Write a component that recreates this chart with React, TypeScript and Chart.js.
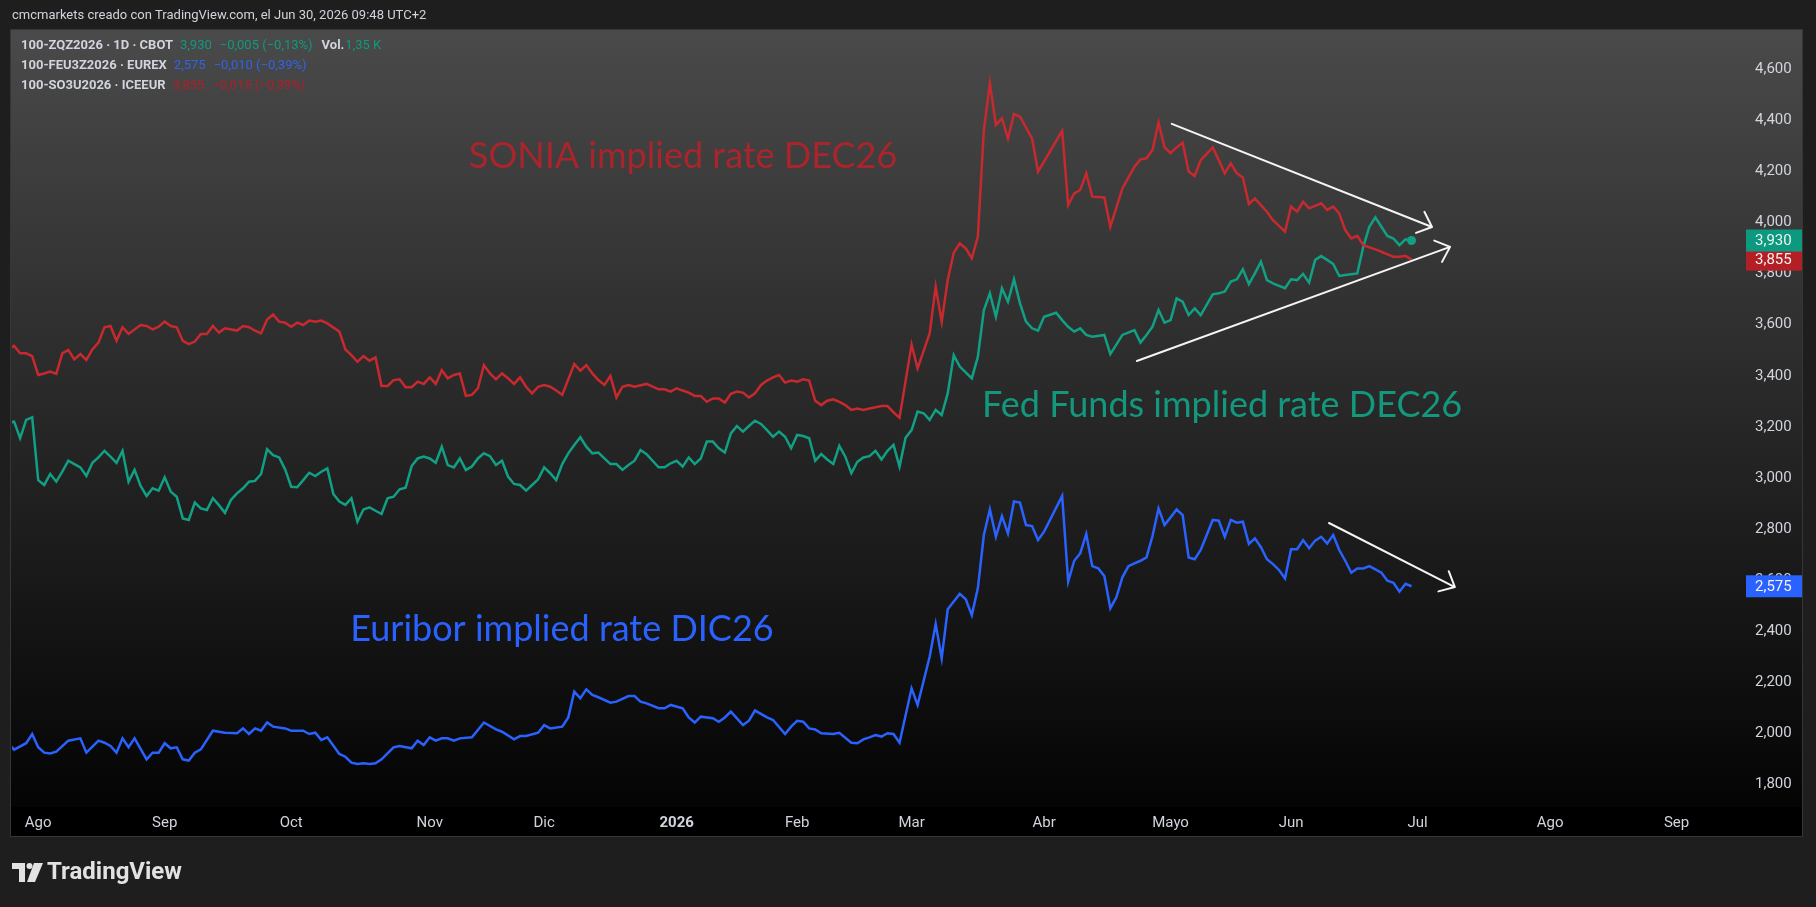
import { useEffect, useRef } from "react";
import { Chart, registerables } from "chart.js";

Chart.register(...registerables);

type Pt = [number, number];

// Session index (trading days counted from 1 Aug 2025) of each month's first session
const monthStarts = [0, 21, 42, 65, 84, 106, 126, 145, 167, 188, 208, 229, 251, 272];
const monthLabels = ["Ago", "Sep", "Oct", "Nov", "Dic", "2026", "Feb", "Mar", "Abr", "Mayo", "Jun", "Jul", "Ago", "Sep"];

// Price-scale ticks (implied rate, %)
const rateTicks = [1.8, 2.0, 2.2, 2.4, 2.6, 2.8, 3.0, 3.2, 3.4, 3.6, 3.8, 4.0, 4.2, 4.4, 4.6];

// [session index, implied rate %] = 100 - futures price
const soniaDec26: Pt[] = [
  [-5, 3.505], [-4, 3.517], [-3, 3.488], [-2, 3.488], [-1, 3.477], [0, 3.403], [1, 3.409], [2, 3.416], [3, 3.407],
  [4, 3.488], [5, 3.501], [6, 3.464], [7, 3.485], [8, 3.462], [9, 3.503], [10, 3.53], [11, 3.59], [12, 3.595],
  [13, 3.537], [14, 3.59], [15, 3.564], [17, 3.599], [18, 3.595], [19, 3.582], [20, 3.592], [21, 3.612], [22, 3.595],
  [23, 3.59], [24, 3.537], [25, 3.524], [26, 3.534], [27, 3.564], [28, 3.564], [29, 3.595], [30, 3.569], [31, 3.586],
  [33, 3.577], [34, 3.595], [35, 3.59], [36, 3.577], [37, 3.566], [38, 3.62], [39, 3.64], [40, 3.612], [41, 3.608],
  [42, 3.592], [43, 3.608], [44, 3.599], [45, 3.616], [46, 3.612], [47, 3.616], [48, 3.605], [50, 3.573], [51, 3.503],
  [52, 3.481], [53, 3.455], [54, 3.477], [55, 3.459], [56, 3.472], [57, 3.36], [58, 3.36], [59, 3.383], [60, 3.386],
  [61, 3.355], [62, 3.355], [63, 3.377], [64, 3.368], [65, 3.394], [66, 3.368], [67, 3.422], [68, 3.39], [69, 3.403],
  [70, 3.409], [71, 3.321], [72, 3.325], [73, 3.351], [74, 3.442], [75, 3.409], [76, 3.386], [77, 3.409], [78, 3.39],
  [79, 3.368], [80, 3.394], [81, 3.357], [82, 3.331], [83, 3.357], [84, 3.364], [85, 3.357], [86, 3.342], [87, 3.325],
  [89, 3.446], [90, 3.42], [91, 3.442], [92, 3.409], [93, 3.383], [94, 3.364], [95, 3.399], [96, 3.315], [97, 3.357],
  [98, 3.364], [99, 3.357], [101, 3.368], [103, 3.347], [104, 3.347], [105, 3.338], [106, 3.351], [107, 3.342],
  [108, 3.334], [109, 3.321], [110, 3.321], [111, 3.298], [112, 3.311], [113, 3.311], [114, 3.295], [115, 3.329],
  [116, 3.338], [117, 3.334], [118, 3.315], [119, 3.331], [120, 3.364], [121, 3.381], [122, 3.394], [123, 3.403],
  [124, 3.373], [125, 3.381], [126, 3.377], [127, 3.386], [128, 3.381], [129, 3.302], [130, 3.285], [131, 3.302],
  [132, 3.308], [133, 3.298], [134, 3.285], [135, 3.266], [136, 3.272], [137, 3.266], [138, 3.272], [140, 3.281],
  [141, 3.281], [142, 3.257], [143, 3.235], [145, 3.522], [146, 3.429], [148, 3.566], [149, 3.749], [150, 3.612],
  [151, 3.775], [152, 3.882], [153, 3.919], [154, 3.899], [155, 3.86], [156, 3.945], [157, 4.363], [158, 4.546],
  [159, 4.383], [160, 4.409], [161, 4.33], [162, 4.426], [163, 4.415], [165, 4.33], [166, 4.2], [170, 4.36],
  [171, 4.069], [172, 4.115], [173, 4.128], [174, 4.193], [175, 4.102], [177, 4.099], [178, 3.984], [180, 4.134],
  [182, 4.219], [183, 4.248], [184, 4.252], [185, 4.285], [186, 4.392], [187, 4.295], [188, 4.272], [189, 4.295],
  [190, 4.313], [191, 4.2], [192, 4.183], [193, 4.245], [195, 4.295], [196, 4.245], [197, 4.193], [198, 4.232],
  [199, 4.193], [200, 4.177], [201, 4.073], [202, 4.095], [203, 4.069], [204, 4.043], [205, 4.01], [207, 3.965],
  [208, 4.063], [209, 4.043], [210, 4.082], [211, 4.056], [213, 4.076], [214, 4.05], [215, 4.063], [216, 4.036],
  [217, 3.971], [218, 3.938], [219, 3.948], [220, 3.912], [222, 3.895], [223, 3.886], [225, 3.866], [226, 3.866],
  [227, 3.87], [228, 3.855],
];

const fedFundsDec26: Pt[] = [
  [-5, 3.215], [-4, 3.22], [-3, 3.155], [-2, 3.227], [-1, 3.237], [0, 2.991], [1, 2.972], [2, 3.015], [3, 2.985],
  [4, 3.024], [5, 3.067], [6, 3.054], [7, 3.041], [8, 3.007], [9, 3.059], [10, 3.08], [11, 3.106], [12, 3.083],
  [13, 3.059], [14, 3.106], [15, 2.985], [16, 3.031], [17, 2.968], [18, 2.929], [19, 2.959], [20, 2.95], [21, 3.002],
  [22, 2.946], [23, 2.926], [24, 2.841], [25, 2.835], [26, 2.903], [27, 2.88], [28, 2.874], [29, 2.92], [30, 2.893],
  [31, 2.863], [32, 2.913], [33, 2.939], [34, 2.959], [35, 2.985], [36, 2.988], [37, 3.015], [38, 3.112], [39, 3.089],
  [40, 3.08], [41, 3.033], [42, 2.965], [43, 2.963], [44, 2.991], [45, 3.02], [46, 3.007], [47, 3.024], [48, 3.037],
  [49, 2.937], [50, 2.907], [51, 2.894], [52, 2.92], [53, 2.828], [54, 2.876], [55, 2.884], [56, 2.871], [57, 2.858],
  [58, 2.92], [59, 2.926], [60, 2.955], [61, 2.961], [62, 3.046], [63, 3.076], [64, 3.083], [65, 3.076], [66, 3.059],
  [67, 3.122], [68, 3.05], [69, 3.041], [70, 3.076], [71, 3.031], [72, 3.044], [73, 3.076], [74, 3.096], [75, 3.085],
  [76, 3.05], [77, 3.067], [78, 3.005], [79, 2.976], [80, 2.972], [81, 2.95], [82, 2.972], [83, 2.994], [84, 3.041],
  [85, 3.018], [86, 2.991], [87, 3.054], [88, 3.096], [89, 3.129], [90, 3.159], [91, 3.122], [92, 3.096], [93, 3.099],
  [94, 3.076], [95, 3.054], [96, 3.054], [97, 3.031], [98, 3.05], [99, 3.067], [100, 3.109], [101, 3.093], [102, 3.067],
  [103, 3.041], [104, 3.041], [105, 3.057], [106, 3.067], [107, 3.044], [108, 3.08], [109, 3.054], [110, 3.076],
  [111, 3.142], [112, 3.142], [113, 3.116], [114, 3.099], [115, 3.174], [116, 3.203], [117, 3.181], [118, 3.203],
  [119, 3.224], [120, 3.211], [121, 3.187], [122, 3.161], [123, 3.181], [124, 3.161], [125, 3.116], [126, 3.168],
  [127, 3.164], [128, 3.155], [129, 3.067], [130, 3.093], [131, 3.072], [132, 3.054], [133, 3.125], [134, 3.083],
  [135, 3.018], [136, 3.063], [137, 3.08], [138, 3.085], [139, 3.106], [140, 3.072], [141, 3.106], [142, 3.129],
  [143, 3.044], [144, 3.157], [145, 3.187], [146, 3.26], [147, 3.253], [148, 3.227], [149, 3.266], [150, 3.246],
  [151, 3.331], [152, 3.481], [153, 3.436], [155, 3.39], [156, 3.474], [157, 3.657], [158, 3.723], [159, 3.631],
  [160, 3.743], [161, 3.69], [162, 3.778], [163, 3.684], [164, 3.612], [165, 3.586], [166, 3.577], [167, 3.631],
  [169, 3.647], [170, 3.618], [171, 3.592], [172, 3.573], [173, 3.586], [174, 3.56], [175, 3.553], [177, 3.56],
  [178, 3.485], [180, 3.56], [182, 3.579], [183, 3.53], [184, 3.56], [185, 3.592], [186, 3.658], [187, 3.608],
  [188, 3.618], [189, 3.703], [190, 3.69], [191, 3.638], [192, 3.664], [193, 3.638], [195, 3.719], [196, 3.723],
  [197, 3.73], [198, 3.769], [199, 3.778], [200, 3.817], [201, 3.759], [202, 3.801], [203, 3.847], [204, 3.775],
  [205, 3.762], [207, 3.743], [208, 3.778], [209, 3.775], [210, 3.799], [211, 3.765], [212, 3.854], [213, 3.869],
  [214, 3.854], [215, 3.838], [216, 3.791], [217, 3.795], [219, 3.801], [220, 3.906], [221, 3.984], [222, 4.021],
  [223, 3.984], [224, 3.948], [225, 3.938], [226, 3.912], [227, 3.935], [228, 3.93],
];

const euriborDec26: Pt[] = [
  [-5, 1.96], [-4, 1.935], [-2, 1.96], [-1, 1.996], [0, 1.944], [1, 1.923], [2, 1.92], [3, 1.927], [5, 1.97],
  [7, 1.979], [8, 1.923], [10, 1.97], [11, 1.962], [12, 1.949], [13, 1.923], [14, 1.979], [15, 1.944], [16, 1.979],
  [18, 1.897], [19, 1.923], [20, 1.923], [21, 1.96], [22, 1.94], [23, 1.944], [24, 1.897], [25, 1.892], [26, 1.923],
  [27, 1.936], [29, 2.009], [31, 2.001], [33, 1.999], [34, 2.018], [35, 1.996], [36, 2.018], [37, 2.009], [38, 2.041],
  [39, 2.025], [41, 2.018], [42, 2.009], [44, 2.009], [45, 1.996], [46, 2.001], [47, 1.973], [48, 1.983], [50, 1.918],
  [51, 1.907], [52, 1.884], [53, 1.879], [54, 1.881], [55, 1.879], [56, 1.881], [57, 1.897], [59, 1.944], [60, 1.949],
  [62, 1.94], [63, 1.97], [64, 1.953], [65, 1.983], [66, 1.97], [67, 1.979], [68, 1.979], [69, 1.97], [70, 1.979],
  [72, 1.983], [73, 2.012], [74, 2.041], [76, 2.014], [77, 2.005], [79, 1.975], [80, 1.988], [81, 1.988], [83, 2.001],
  [84, 2.031], [85, 2.018], [87, 2.025], [88, 2.061], [89, 2.162], [90, 2.136], [91, 2.171], [92, 2.149], [93, 2.14],
  [95, 2.119], [96, 2.123], [98, 2.145], [99, 2.145], [100, 2.123], [101, 2.116], [103, 2.097], [104, 2.097],
  [105, 2.11], [107, 2.097], [108, 2.061], [109, 2.041], [110, 2.064], [112, 2.058], [113, 2.044], [114, 2.061],
  [115, 2.084], [117, 2.031], [118, 2.048], [119, 2.088], [121, 2.061], [122, 2.051], [124, 1.996], [125, 2.025],
  [126, 2.048], [127, 2.044], [128, 2.018], [129, 2.014], [130, 1.999], [132, 1.996], [133, 2.001], [135, 1.962],
  [136, 1.96], [137, 1.975], [138, 1.983], [139, 1.992], [140, 1.986], [141, 1.999], [142, 1.996], [143, 1.962],
  [145, 2.175], [146, 2.11], [148, 2.299], [149, 2.427], [150, 2.293], [151, 2.485], [152, 2.515], [153, 2.545],
  [154, 2.524], [155, 2.462], [156, 2.567], [157, 2.776], [158, 2.876], [159, 2.769], [160, 2.85], [161, 2.782],
  [162, 2.907], [163, 2.903], [164, 2.815], [165, 2.811], [166, 2.756], [167, 2.789], [170, 2.929], [171, 2.593],
  [172, 2.675], [173, 2.704], [174, 2.78], [175, 2.654], [176, 2.645], [177, 2.615], [178, 2.489], [179, 2.532],
  [180, 2.61], [181, 2.654], [182, 2.665], [183, 2.675], [184, 2.688], [185, 2.772], [186, 2.88], [187, 2.815],
  [188, 2.845], [189, 2.876], [190, 2.854], [191, 2.688], [192, 2.681], [193, 2.717], [194, 2.776], [195, 2.835],
  [196, 2.832], [197, 2.769], [198, 2.835], [199, 2.824], [200, 2.828], [201, 2.741], [202, 2.763], [203, 2.728],
  [204, 2.681], [205, 2.662], [206, 2.639], [207, 2.606], [208, 2.72], [209, 2.72], [210, 2.756], [211, 2.724],
  [212, 2.754], [213, 2.769], [214, 2.743], [215, 2.776], [216, 2.717], [217, 2.675], [218, 2.628], [219, 2.645],
  [220, 2.645], [221, 2.654], [222, 2.641], [223, 2.628], [224, 2.597], [225, 2.589], [226, 2.554], [227, 2.585],
  [228, 2.575],
];

const headerText = "cmcmarkets creado con TradingView.com, el Jun 30, 2026 09:48 UTC+2";
const fedSymbol = "100-ZQZ2026 · 1D · CBOT";
const euriborSymbol = "100-FEU3Z2026 · EUREX";
const soniaSymbol = "100-SO3U2026 · ICEEUR";
const fedVolume = "1,35 K";

// Chart drawings anchored in (session, rate) space
const noteLabels: { text: string; at: Pt; color: string }[] = [
  { text: "SONIA implied rate DEC26", at: [71.5, 4.214], color: "#a9252b" },
  { text: "Fed Funds implied rate DEC26", at: [156.7, 3.238], color: "#13977d" },
  { text: "Euribor implied rate DIC26", at: [51.8, 2.362], color: "#2962ff" },
];
const trendArrows: { from: Pt; to: Pt }[] = [
  { from: [188.2, 4.387], to: [231.4, 3.983] },
  { from: [182.4, 3.458], to: [234.4, 3.905] },
  { from: [214.3, 2.823], to: [235.2, 2.572] },
];

const UI_FONT = 'Roboto, "Liberation Sans", sans-serif';
const TEXT = "#d1d4dc";
const RED = "#c8292e";
const GREEN = "#12a085";
const BLUE = "#2962ff";

const fmt = (v: number) => v.toFixed(3).replace(".", ",");
const signed = (v: number, d: number) =>
  (v < 0 ? "\u2212" : "+") + Math.abs(v).toFixed(d).replace(".", ",");

const lastOf = (s: Pt[]) => s[s.length - 1][1];
const prevOf = (s: Pt[]) => s[s.length - 2][1];
const changeText = (s: Pt[]) => {
  const chg = lastOf(s) - prevOf(s);
  return `${signed(chg, 3)} (${signed((chg / prevOf(s)) * 100, 2)}%)`;
};

export default function App() {
  const ref = useRef<HTMLCanvasElement>(null);

  useEffect(() => {
    const canvas = ref.current;
    if (!canvas) return;

    const toXY = (s: Pt[]) => s.map(([x, y]) => ({ x, y }));

    const framePlugin = {
      id: "frame",
      beforeDraw(chart: any) {
        const { ctx, chartArea: a } = chart;
        const xs = chart.scales.x;
        const ys = chart.scales.y;
        ctx.save();
        ctx.fillStyle = "#1e1e1e";
        ctx.fillRect(0, 0, chart.width, chart.height);
        const left = a.left - 1;
        const right = ys.right;
        const g = ctx.createLinearGradient(0, a.top, 0, a.bottom);
        g.addColorStop(0, "#4a4a4a");
        g.addColorStop(1, "#040404");
        ctx.fillStyle = g;
        ctx.fillRect(left, a.top, right - left, a.bottom - a.top);
        ctx.fillStyle = "#000000";
        ctx.fillRect(left, a.bottom, right - left, xs.bottom - a.bottom);
        ctx.strokeStyle = "#363636";
        ctx.lineWidth = 1;
        ctx.strokeRect(left - 0.5, a.top - 0.5, right - left + 1, xs.bottom - a.top + 1);
        ctx.restore();
      },
    };

    const drawingsPlugin = {
      id: "drawings",
      afterDatasetsDraw(chart: any) {
        const { ctx } = chart;
        const xs = chart.scales.x;
        const ys = chart.scales.y;
        ctx.save();
        ctx.textAlign = "left";
        ctx.textBaseline = "alphabetic";
        ctx.font = '36px Lato, "Open Sans", sans-serif';
        for (const n of noteLabels) {
          ctx.fillStyle = n.color;
          ctx.fillText(n.text, xs.getPixelForValue(n.at[0]), ys.getPixelForValue(n.at[1]));
        }
        ctx.strokeStyle = "#f4f4f4";
        ctx.lineWidth = 2;
        ctx.lineCap = "round";
        ctx.lineJoin = "round";
        for (const ar of trendArrows) {
          const x1 = xs.getPixelForValue(ar.from[0]);
          const y1 = ys.getPixelForValue(ar.from[1]);
          const x2 = xs.getPixelForValue(ar.to[0]);
          const y2 = ys.getPixelForValue(ar.to[1]);
          const ang = Math.atan2(y2 - y1, x2 - x1);
          const len = 17;
          const spread = 0.73;
          ctx.beginPath();
          ctx.moveTo(x1, y1);
          ctx.lineTo(x2, y2);
          ctx.moveTo(x2 - len * Math.cos(ang - spread), y2 - len * Math.sin(ang - spread));
          ctx.lineTo(x2, y2);
          ctx.lineTo(x2 - len * Math.cos(ang + spread), y2 - len * Math.sin(ang + spread));
          ctx.stroke();
        }
        ctx.restore();
      },
    };

    const overlayPlugin = {
      id: "overlay",
      afterDraw(chart: any) {
        const { ctx, chartArea: a } = chart;
        const xs = chart.scales.x;
        const ys = chart.scales.y;
        ctx.save();

        // header line
        ctx.textBaseline = "middle";
        ctx.textAlign = "left";
        ctx.font = `13px ${UI_FONT}`;
        ctx.fillStyle = TEXT;
        ctx.fillText(headerText, a.left, a.top / 2 + 1);

        // legend rows
        const rows = [
          { sym: fedSymbol, s: fedFundsDec26, color: "#0f9a7f", vol: fedVolume },
          { sym: euriborSymbol, s: euriborDec26, color: "#2f64ea", vol: "" },
          { sym: soniaSymbol, s: soniaDec26, color: "#ad2029", vol: "" },
        ];
        rows.forEach((r, k) => {
          const y = a.top + 16 + k * 20;
          let x = a.left + 9;
          ctx.font = `bold 13px ${UI_FONT}`;
          ctx.fillStyle = TEXT;
          ctx.fillText(r.sym, x, y);
          x += ctx.measureText(r.sym).width + 7;
          ctx.font = `13px ${UI_FONT}`;
          ctx.fillStyle = r.color;
          const last = fmt(lastOf(r.s));
          ctx.fillText(last, x, y);
          x += ctx.measureText(last).width + 8;
          const chg = changeText(r.s);
          ctx.fillText(chg, x, y);
          x += ctx.measureText(chg).width + 9;
          if (r.vol) {
            ctx.font = `bold 13px ${UI_FONT}`;
            ctx.fillStyle = TEXT;
            ctx.fillText("Vol.", x, y);
            x += ctx.measureText("Vol.").width + 1;
            ctx.font = `13px ${UI_FONT}`;
            ctx.fillStyle = r.color;
            ctx.fillText(r.vol, x, y);
          }
        });

        // last-value tags on the price scale
        const tags = [
          { s: soniaDec26, color: "#b41f25" },
          { s: euriborDec26, color: BLUE },
          { s: fedFundsDec26, color: "#0b9a7f" },
        ];
        ctx.font = `15px ${UI_FONT}`;
        for (const t of tags) {
          const v = lastOf(t.s);
          const y = ys.getPixelForValue(v);
          ctx.fillStyle = t.color;
          ctx.fillRect(ys.left + 2, y - 11, ys.right - ys.left - 2, 22);
          ctx.fillStyle = "#f2f2f2";
          ctx.fillText(fmt(v), ys.left + 11, y + 1);
        }

        // TradingView mark in the footer
        const lx = a.left;
        const ly = xs.bottom + 36;
        ctx.fillStyle = "#e2e2e2";
        ctx.fillRect(lx, ly - 9, 13, 6);
        ctx.fillRect(lx + 7, ly - 9, 6, 19);
        ctx.beginPath();
        ctx.arc(lx + 17.5, ly - 6, 3, 0, Math.PI * 2);
        ctx.fill();
        ctx.beginPath();
        ctx.moveTo(lx + 22, ly - 9);
        ctx.lineTo(lx + 31, ly - 9);
        ctx.lineTo(lx + 23, ly + 10);
        ctx.lineTo(lx + 15, ly + 10);
        ctx.closePath();
        ctx.fill();
        ctx.font = `bold 24px ${UI_FONT}`;
        ctx.textBaseline = "middle";
        ctx.fillText("TradingView", lx + 35, ly + 1);

        ctx.restore();
      },
    };

    const chart = new Chart(canvas, {
      type: "line",
      data: {
        datasets: [
          {
            label: "Euribor DIC26",
            data: toXY(euriborDec26),
            borderColor: BLUE,
            borderWidth: 2.5,
            pointRadius: 0,
            tension: 0,
          },
          {
            label: "SONIA DEC26",
            data: toXY(soniaDec26),
            borderColor: RED,
            borderWidth: 2.5,
            pointRadius: 0,
            tension: 0,
          },
          {
            label: "Fed Funds DEC26",
            data: toXY(fedFundsDec26),
            borderColor: GREEN,
            borderWidth: 2.5,
            pointRadius: (c: any) => (c.dataIndex === fedFundsDec26.length - 1 ? 4.5 : 0),
            pointBackgroundColor: GREEN,
            pointBorderWidth: 0,
            tension: 0,
          },
        ],
      },
      options: {
        animation: false,
        responsive: false,
        devicePixelRatio: 1,
        events: [],
        layout: { padding: { left: 12, top: 30, right: 14, bottom: 71 } },
        plugins: {
          legend: { display: false },
          tooltip: { enabled: false },
        },
        scales: {
          x: {
            type: "linear",
            min: -4.35,
            max: 283.2,
            grid: { display: false, drawTicks: false },
            border: { display: false },
            afterBuildTicks: (s: any) => {
              s.ticks = monthStarts.map((value) => ({ value }));
            },
            afterFit: (s: any) => {
              s.height = 29;
            },
            ticks: {
              autoSkip: false,
              maxRotation: 0,
              padding: 7,
              color: TEXT,
              font: (c: any) => ({
                family: UI_FONT,
                size: 15,
                weight: monthLabels[c.index] === "2026" ? "bold" : "normal",
              }),
              callback: (_v: any, i: number) => monthLabels[i],
            },
          },
          y: {
            type: "linear",
            position: "right",
            min: 1.71,
            max: 4.755,
            grid: { display: false, drawTicks: false },
            border: { display: false },
            afterBuildTicks: (s: any) => {
              s.ticks = rateTicks.map((value) => ({ value }));
            },
            afterFit: (s: any) => {
              s.width = 58;
            },
            ticks: {
              padding: 11,
              color: TEXT,
              font: { family: UI_FONT, size: 15 },
              callback: (v: any) => fmt(Number(v)),
            },
          },
        },
      } as any,
      plugins: [framePlugin, drawingsPlugin, overlayPlugin],
    });

    return () => chart.destroy();
  }, []);

  return (
    <div style={{ position: "fixed", left: 0, top: 0, width: 1816, height: 907, background: "#1e1e1e" }}>
      <canvas ref={ref} width={1816} height={907} style={{ display: "block", width: 1816, height: 907 }} />
    </div>
  );
}
